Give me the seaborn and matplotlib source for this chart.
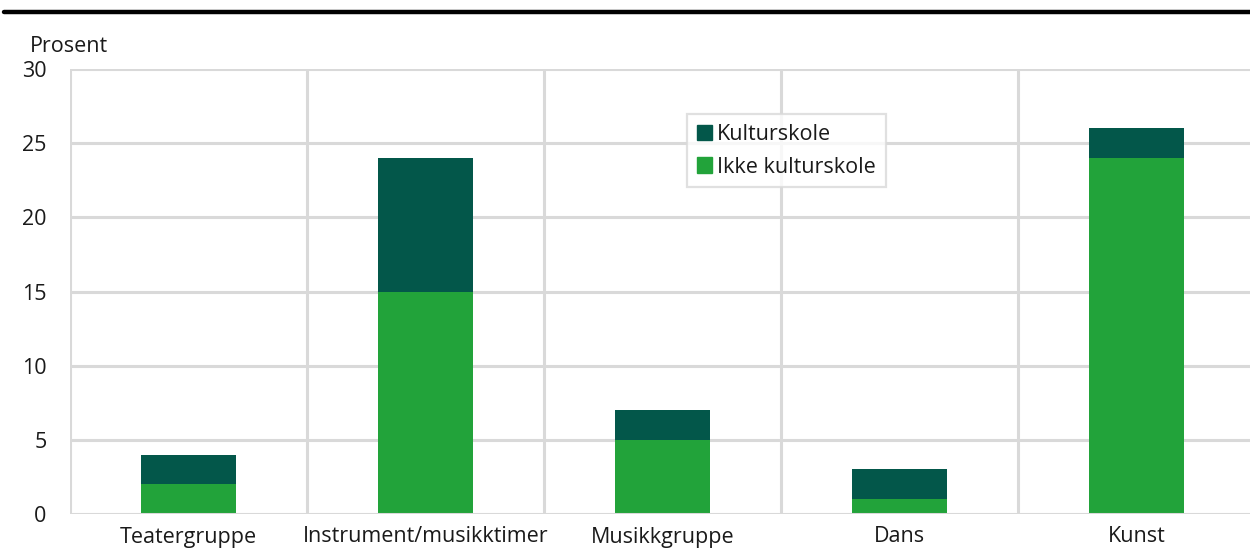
import matplotlib
matplotlib.use("Agg")
import matplotlib.pyplot as plt
import matplotlib.patches as mpatches
from matplotlib.lines import Line2D
import seaborn as sns
import pandas as pd

categories = ["Teatergruppe", "Instrument/musikktimer", "Musikkgruppe", "Dans", "Kunst"]
ikke_kulturskole = [2, 15, 5, 1, 24]
kulturskole = [2, 9, 2, 2, 2]
y_ticks = [0, 5, 10, 15, 20, 25, 30]

DARK = "#03574A"
GREEN = "#22A33A"
GRID = "#D9D9D9"
TEXT = "#1a1a1a"
FS = 15.5

sns.set_theme(style="white")
plt.rcParams["font.family"] = ["Open Sans", "DejaVu Sans"]

df = pd.DataFrame({
    "kategori": categories,
    "ikke": ikke_kulturskole,
    "kultur": kulturskole,
})

fig = plt.figure(figsize=(12.5, 5.54), dpi=100)
ax = fig.add_axes([70 / 1250, 1 - 514 / 554, 1185 / 1250, 445 / 554])

sns.barplot(data=df, x="kategori", y="ikke", color=GREEN, width=0.4,
            saturation=1, linewidth=0, ax=ax, zorder=3)
sns.barplot(data=df, x="kategori", y="kultur", bottom=df["ikke"], color=DARK,
            width=0.4, saturation=1, linewidth=0, ax=ax, zorder=3)

ax.set_xlim(-0.5, len(categories) - 0.5)
ax.set_ylim(0, 30)
ax.set_yticks(y_ticks)
ax.set_yticklabels([str(t) for t in y_ticks])
ax.set_xlabel("")
ax.set_ylabel("")

# grid: horizontal at ticks, vertical at category boundaries
for t in y_ticks[1:]:
    ax.axhline(t, color=GRID, lw=2.2, zorder=1)
for b in range(len(categories) + 1):
    ax.axvline(b - 0.5, color=GRID, lw=2.2, zorder=1)
for s in ax.spines.values():
    s.set_visible(False)
ax.axhline(0, color=GRID, lw=2.2, zorder=4)

ax.tick_params(axis="both", length=0, labelsize=FS, colors=TEXT)
ax.tick_params(axis="y", pad=17)
ax.tick_params(axis="x", pad=9)

fig.text(30 / 1250, 1 - 46 / 554, "Prosent", fontsize=FS, color=TEXT,
         ha="left", va="center")

# heavy rule across the top
fig.add_artist(Line2D([4 / 1250, 1.0], [1 - 12 / 554, 1 - 12 / 554],
                      color="black", lw=3.2, transform=fig.transFigure))

handles = [mpatches.Patch(color=DARK, label="Kulturskole"),
           mpatches.Patch(color=GREEN, label="Ikke kulturskole")]
leg = ax.legend(handles=handles, loc="upper left",
                bbox_to_anchor=((687 - 70) / 1185, (514 - 114) / 445),
                fontsize=FS, frameon=True, fancybox=False,
                handlelength=0.7, handleheight=0.7, handletextpad=0.25,
                borderpad=0.45, labelspacing=0.55, borderaxespad=0)
leg.get_frame().set_edgecolor(GRID)
leg.get_frame().set_linewidth(1.6)
for t in leg.get_texts():
    t.set_color(TEXT)
leg.set_zorder(5)

fig.savefig("out.png", dpi=100)
